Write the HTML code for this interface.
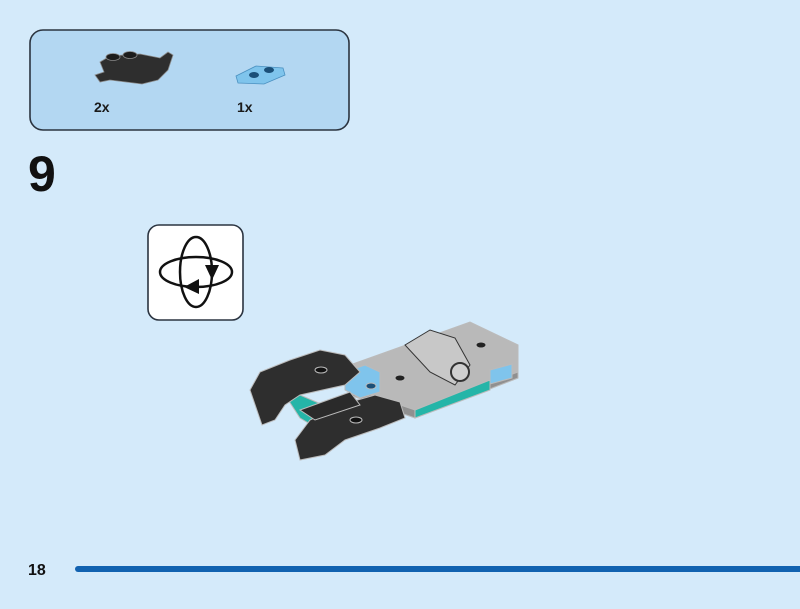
<!DOCTYPE html>
<html><head><style>
body{margin:0;width:800px;height:604px;background:#d4eafa;overflow:hidden;font-family:"Liberation Sans",sans-serif}
</style></head><body>
<svg width="800" height="604" viewBox="0 0 800 604" xmlns="http://www.w3.org/2000/svg">
<rect x="30" y="30" width="319" height="100" rx="13" fill="#b3d7f2" stroke="#2b3440" stroke-width="1.6"/>
<g stroke="#8a8a8a" stroke-width="0.8">
<path d="M100 62 L110 56 L140 54 L160 58 L168 52 L173 55 L168 70 L158 80 L142 84 L126 82 L110 80 L100 82 L95 75 L104 72 Z" fill="#2e2e2e"/>
<ellipse cx="113" cy="57" rx="7" ry="3.5" fill="#1c1c1c"/>
<ellipse cx="130" cy="55" rx="7" ry="3.5" fill="#1c1c1c"/>
</g>
<text x="94" y="112" font-size="14" font-weight="bold" fill="#1a1a1a">2x</text>
<path d="M236 76 L256 66 L283 68 L285 75 L264 84 L238 83 Z" fill="#7fc4ec" stroke="#4a90c0" stroke-width="0.8"/>
<ellipse cx="254" cy="75" rx="5" ry="3" fill="#1b4f78"/>
<ellipse cx="269" cy="70" rx="5" ry="3" fill="#1b4f78"/>
<text x="237" y="112" font-size="14" font-weight="bold" fill="#1a1a1a">1x</text>
<text x="28" y="191" font-size="50" font-weight="bold" fill="#111">9</text>
<rect x="148" y="225" width="95" height="95" rx="11" fill="#fff" stroke="#2b3440" stroke-width="1.6"/>
<ellipse cx="196" cy="272" rx="36" ry="15" fill="none" stroke="#111" stroke-width="2.5"/>
<ellipse cx="196" cy="272" rx="16" ry="35" fill="none" stroke="#111" stroke-width="2.5"/>
<path d="M205 265 L219 265 L212 280 Z" fill="#111"/>
<path d="M199 279 L199 294 L184 287 Z" fill="#111"/>
<g stroke="#bbb" stroke-width="1">
<path d="M350 365 L470 322 L518 345 L518 378 L415 418 L350 395 Z" fill="#b9b9b9"/>
<path d="M350 395 L415 418 L518 378 L518 372 L415 410 L350 388 Z" fill="#909090"/>
<path d="M415 418 L490 390 L490 380 L415 410 Z" fill="#25b5a8"/>
<path d="M405 345 L430 330 L455 338 L470 365 L455 385 L430 372 Z" fill="#c8c8c8" stroke="#333"/>
<circle cx="460" cy="372" r="9" fill="#d0d0d0" stroke="#333" stroke-width="2"/>
<path d="M345 372 L365 365 L380 372 L380 392 L360 398 L345 390 Z" fill="#7fc4ec"/>
<ellipse cx="371" cy="386" rx="5" ry="3" fill="#1b4f78"/>
<ellipse cx="400" cy="378" rx="5" ry="3" fill="#222"/>
<ellipse cx="481" cy="345" rx="5" ry="3" fill="#222"/>
<path d="M490 370 L512 364 L512 378 L490 384 Z" fill="#7fc4ec"/>
<path d="M285 395 L300 418 L320 430 L335 428 L335 410 L300 395 Z" fill="#25b5a8"/>
<path d="M250 390 L260 372 L290 360 L320 350 L345 355 L360 372 L345 385 L300 395 L285 405 L275 420 L262 425 Z" fill="#2e2e2e"/>
<path d="M295 440 L310 420 L340 405 L375 395 L400 402 L405 418 L380 428 L345 440 L325 455 L300 460 Z" fill="#2e2e2e"/>
<path d="M300 410 L350 392 L360 405 L315 420 Z" fill="#2a2a2a"/>
<ellipse cx="321" cy="370" rx="6" ry="3" fill="#111"/>
<ellipse cx="356" cy="420" rx="6" ry="3" fill="#111"/>
</g>
<text x="28" y="575" font-size="16" font-weight="bold" fill="#111">18</text>
<line x1="78" y1="569" x2="805" y2="569" stroke="#1162b0" stroke-width="6" stroke-linecap="round"/>
</svg>
</body></html>
